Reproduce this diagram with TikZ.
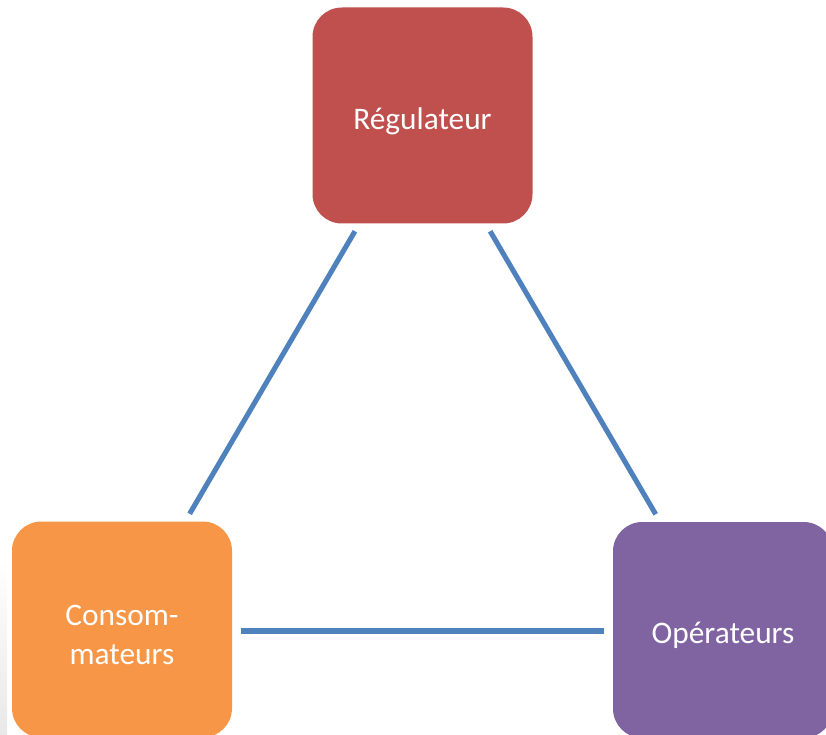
\documentclass[tikz,border=0pt]{standalone}
\usepackage{fontspec}
\setmainfont{Carlito}
\definecolor{regred}{HTML}{C0504D}
\definecolor{conorange}{HTML}{F79646}
\definecolor{oppurple}{HTML}{8064A2}
\definecolor{linkblue}{HTML}{4F81BD}
\begin{document}
\begin{tikzpicture}[x=0.75pt,y=-0.75pt,
  actor/.style={rectangle, rounded corners=22pt, minimum width=165pt, minimum height=162pt,
    inner sep=0pt},
  caption/.style={text=white, align=center, inner sep=0pt, yshift=-4.2pt,
    font=\fontsize{23.5}{29}\selectfont},
  link/.style={draw=linkblue, line width=3.8pt, shorten >=6.5pt, shorten <=6.5pt}]
  \useasboundingbox (0,0) rectangle (826,735);
  % soft page shadow along the lower left edge
  \shade[top color=white, bottom color=black!9] (0,560) rectangle (7,735);
  \node[actor, fill=regred, label={[caption]center:Régulateur}] (reg) at (422.5,115.5) {};
  \node[actor, fill=conorange, label={[caption]center:{Consom-\\mateurs}}] (con) at (122,629.5) {};
  \node[actor, fill=oppurple, label={[caption]center:Opérateurs}] (op) at (723,630) {};
  \draw[link] (reg) -- (con);
  \draw[link] (reg) -- (op);
  \draw[link] (con.east |- 0,631) -- (op.west |- 0,631);
\end{tikzpicture}
\end{document}
